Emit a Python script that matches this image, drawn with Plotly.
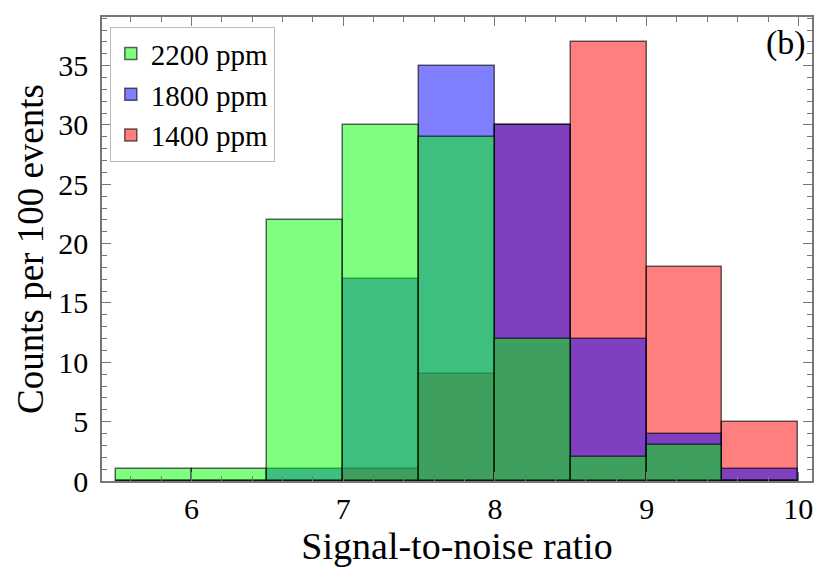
import plotly.graph_objects as go

bin_left = [5.5, 6.0, 6.5, 7.0, 7.5, 8.0, 8.5, 9.0, 9.5]
bin_width = 0.5
counts_2200 = [1, 1, 22, 30, 29, 12, 2, 3, 0]
counts_1800 = [0, 0, 1, 17, 35, 30, 12, 4, 1]
counts_1400 = [0, 0, 0, 1, 9, 30, 37, 18, 5]
x_ticks = [6, 7, 8, 9, 10]
y_ticks = [0, 5, 10, 15, 20, 25, 30, 35]

centers = [b + bin_width / 2 for b in bin_left]
FONT = "Liberation Serif"

fig = go.Figure()
series = [
    ("1400 ppm", counts_1400, "rgba(255,0,0,0.5)"),
    ("1800 ppm", counts_1800, "rgba(0,0,255,0.5)"),
    ("2200 ppm", counts_2200, "rgba(0,255,0,0.5)"),
]
for name, vals, col in series:
    fig.add_trace(go.Bar(
        x=centers, y=vals, width=[bin_width] * len(vals), name=name,
        marker=dict(color=col, line=dict(color="rgba(0,0,0,0.6)", width=1.5)),
    ))

axis_common = dict(
    showgrid=False, zeroline=False, showline=True, linecolor="#777", linewidth=1.5,
    mirror="allticks", ticks="inside", ticklen=9, tickwidth=1.2, tickcolor="#777",
    tickfont=dict(family=FONT, size=30, color="black"), automargin=False,
)
fig.update_xaxes(
    range=[5.41, 10.09], tickvals=x_ticks,
    minor=dict(dtick=0.2, ticks="inside", ticklen=5, tickcolor="#777", tickwidth=1),
    title=dict(text="Signal-to-noise ratio", font=dict(family=FONT, size=38, color="black"), standoff=2),
    ticklabelstandoff=0,
    **axis_common,
)
fig.update_yaxes(
    range=[0, 39.1], tickvals=y_ticks,
    minor=dict(dtick=1, ticks="inside", ticklen=5, tickcolor="#777", tickwidth=1),
    title=dict(text="Counts per 100 events", font=dict(family=FONT, size=37, color="black"), standoff=3),
    ticklabelstandoff=6,
    **axis_common,
)
fig.add_annotation(
    text="(b)", xref="paper", yref="paper", x=0.994, y=0.99,
    xanchor="right", yanchor="top", showarrow=False,
    font=dict(family=FONT, size=34, color="black"),
)
fig.update_layout(
    width=830, height=584,
    margin=dict(l=102, r=18, t=17, b=103),
    barmode="overlay", bargap=0,
    plot_bgcolor="white", paper_bgcolor="white",
    showlegend=True,
    legend=dict(
        x=0.011, y=0.978, xanchor="left", yanchor="top",
        traceorder="reversed", bgcolor="rgba(255,255,255,0.8)",
        bordercolor="#bbb", borderwidth=1,
        font=dict(family=FONT, size=29, color="black"),
        itemwidth=30, tracegroupgap=0,
    ),
)
fig.write_html(
    "out.html",
    config={"displayModeBar": False},
    post_script="document.body.style.margin='0';document.body.style.overflow='hidden';",
)
